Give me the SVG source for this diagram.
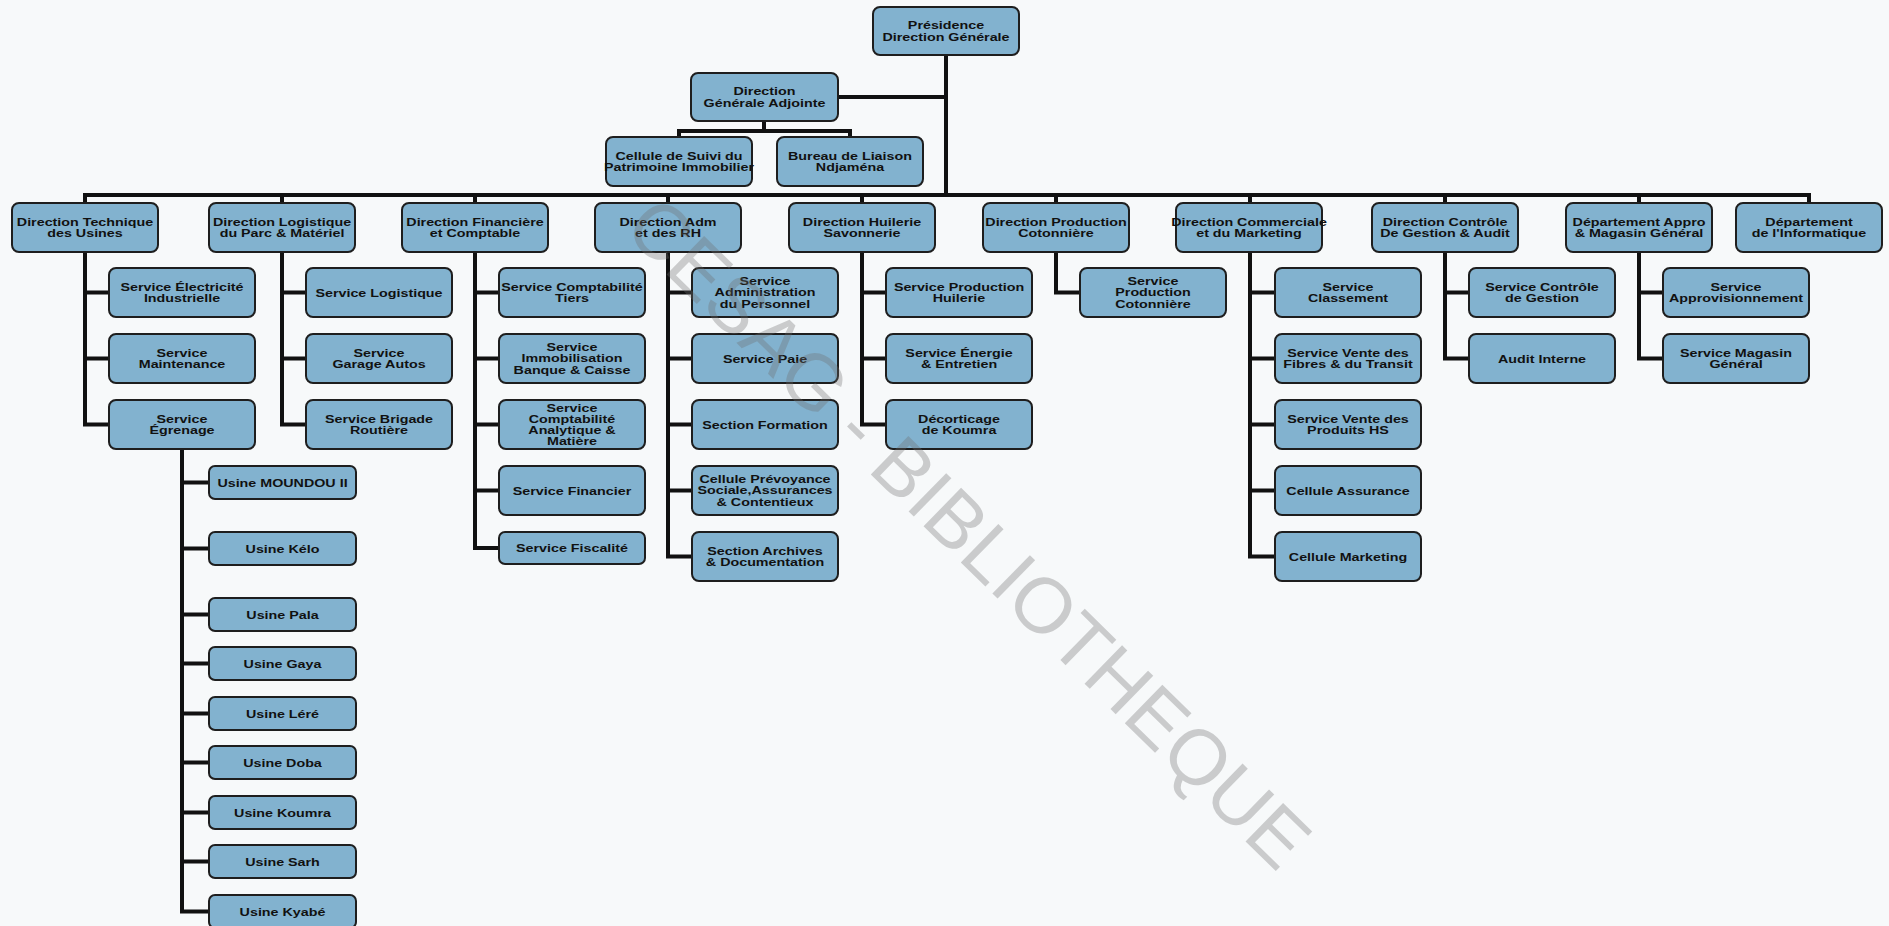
<svg xmlns="http://www.w3.org/2000/svg" width="1889" height="926" viewBox="0 0 1889 926">
  <style>
    .b { fill: #82b2cf; stroke: #1e1e1e; stroke-width: 2; }
    .t { font-family: "Liberation Sans", Arial, sans-serif; font-weight: bold; font-size: 11px; fill: #111; text-anchor: middle; }
    .c { fill: none; stroke: #111; stroke-width: 4; stroke-linejoin: miter; }
    .wm { font-family: "Liberation Sans", Arial, sans-serif; font-size: 78px; fill: #6e6e6e; opacity: 0.32; text-anchor: middle; }
  </style>
  <rect x="0" y="0" width="1889" height="926" fill="#f7f9fa"/>

  <!-- connectors -->
  <g id="connectors" class="c">
    <path d="M946 55 V195"/>
    <path d="M838 97 H946"/>
    <path d="M764 121 V131 M679 137 V131 H850 V137"/>
    <path d="M85 203 V195 H1809 V203"/>
    <path d="M282 195 V203 M475 195 V203 M668 195 V203 M862 195 V203 M1056 195 V203 M1250 195 V203 M1445 195 V203 M1639 195 V203"/>
    <!-- Direction Technique -->
    <path d="M85 252 V424.5 H109 M85 292.5 H109 M85 358.5 H109"/>
    <!-- Usines -->
    <path d="M182 449 V911.5 H209 M182 482.5 H209 M182 548.5 H209 M182 614.5 H209 M182 663.5 H209 M182 713.5 H209 M182 762.5 H209 M182 812.5 H209 M182 861.5 H209"/>
    <!-- Direction Logistique -->
    <path d="M282 252 V424.5 H306 M282 292.5 H306 M282 358.5 H306"/>
    <!-- Direction Financiere -->
    <path d="M475 252 V548 H499 M475 292.5 H499 M475 358.5 H499 M475 424.5 H499 M475 490.5 H499"/>
    <!-- Direction Adm -->
    <path d="M668 252 V556.5 H692 M668 292.5 H692 M668 358.5 H692 M668 424.5 H692 M668 490.5 H692"/>
    <!-- Direction Huilerie -->
    <path d="M862 252 V424.5 H886 M862 292.5 H886 M862 358.5 H886"/>
    <!-- Direction Production -->
    <path d="M1056 252 V292.5 H1080"/>
    <!-- Direction Commerciale -->
    <path d="M1250 252 V556.5 H1275 M1250 292.5 H1275 M1250 358.5 H1275 M1250 424.5 H1275 M1250 490.5 H1275"/>
    <!-- Direction Controle -->
    <path d="M1445 252 V358.5 H1469 M1445 292.5 H1469"/>
    <!-- Departement Appro -->
    <path d="M1639 252 V358.5 H1663 M1639 292.5 H1663"/>
  </g>

  <!-- top levels -->
  <g id="presidence"><rect class="b" x="873" y="7" width="146" height="48" rx="7"/>
    <text class="t" transform="translate(946,29) scale(1.3 1)"><tspan x="0">Présidence</tspan><tspan x="0" dy="12">Direction Générale</tspan></text></g>
  <g id="dga"><rect class="b" x="691" y="73" width="147" height="48" rx="7"/>
    <text class="t" transform="translate(764.5,95) scale(1.3 1)"><tspan x="0">Direction</tspan><tspan x="0" dy="12">Générale Adjointe</tspan></text></g>
  <g id="cellule-patrimoine"><rect class="b" x="606" y="137" width="146" height="49" rx="7"/>
    <text class="t" transform="translate(679,159.5) scale(1.3 1)"><tspan x="0">Cellule de Suivi du</tspan><tspan x="0" dy="12">Patrimoine Immobilier</tspan></text></g>
  <g id="bureau-liaison"><rect class="b" x="777" y="137" width="146" height="49" rx="7"/>
    <text class="t" transform="translate(850,159.5) scale(1.3 1)"><tspan x="0">Bureau de Liaison</tspan><tspan x="0" dy="12">Ndjaména</tspan></text></g>

  <!-- directions -->
  <g id="dir-technique"><rect class="b" x="12" y="203" width="146" height="49" rx="7"/>
    <text class="t" transform="translate(85,225.5) scale(1.3 1)"><tspan x="0">Direction Technique</tspan><tspan x="0" dy="12">des Usines</tspan></text></g>
  <g id="dir-logistique"><rect class="b" x="209" y="203" width="146" height="49" rx="7"/>
    <text class="t" transform="translate(282,225.5) scale(1.3 1)"><tspan x="0">Direction Logistique</tspan><tspan x="0" dy="12">du Parc &amp; Matériel</tspan></text></g>
  <g id="dir-financiere"><rect class="b" x="402" y="203" width="146" height="49" rx="7"/>
    <text class="t" transform="translate(475,225.5) scale(1.3 1)"><tspan x="0">Direction Financière</tspan><tspan x="0" dy="12">et Comptable</tspan></text></g>
  <g id="dir-adm"><rect class="b" x="595" y="203" width="146" height="49" rx="7"/>
    <text class="t" transform="translate(668,225.5) scale(1.3 1)"><tspan x="0">Direction Adm</tspan><tspan x="0" dy="12">et des RH</tspan></text></g>
  <g id="dir-huilerie"><rect class="b" x="789" y="203" width="146" height="49" rx="7"/>
    <text class="t" transform="translate(862,225.5) scale(1.3 1)"><tspan x="0">Direction Huilerie</tspan><tspan x="0" dy="12">Savonnerie</tspan></text></g>
  <g id="dir-production"><rect class="b" x="983" y="203" width="146" height="49" rx="7"/>
    <text class="t" transform="translate(1056,225.5) scale(1.3 1)"><tspan x="0">Direction Production</tspan><tspan x="0" dy="12">Cotonnière</tspan></text></g>
  <g id="dir-commerciale"><rect class="b" x="1176" y="203" width="146" height="49" rx="7"/>
    <text class="t" transform="translate(1249,225.5) scale(1.3 1)"><tspan x="0">Direction Commerciale</tspan><tspan x="0" dy="12">et du Marketing</tspan></text></g>
  <g id="dir-controle"><rect class="b" x="1372" y="203" width="146" height="49" rx="7"/>
    <text class="t" transform="translate(1445,225.5) scale(1.3 1)"><tspan x="0">Direction Contrôle</tspan><tspan x="0" dy="12">De Gestion &amp; Audit</tspan></text></g>
  <g id="dep-appro"><rect class="b" x="1566" y="203" width="146" height="49" rx="7"/>
    <text class="t" transform="translate(1639,225.5) scale(1.3 1)"><tspan x="0">Département Appro</tspan><tspan x="0" dy="12">&amp; Magasin Général</tspan></text></g>
  <g id="dep-informatique"><rect class="b" x="1736" y="203" width="146" height="49" rx="7"/>
    <text class="t" transform="translate(1809,225.5) scale(1.3 1)"><tspan x="0">Département</tspan><tspan x="0" dy="12">de l'Informatique</tspan></text></g>

  <!-- Direction Technique services -->
  <g id="svc-electricite"><rect class="b" x="109" y="268" width="146" height="49" rx="7"/>
    <text class="t" transform="translate(182,290.5) scale(1.3 1)"><tspan x="0">Service Électricité</tspan><tspan x="0" dy="12">Industrielle</tspan></text></g>
  <g id="svc-maintenance"><rect class="b" x="109" y="334" width="146" height="49" rx="7"/>
    <text class="t" transform="translate(182,356.5) scale(1.3 1)"><tspan x="0">Service</tspan><tspan x="0" dy="12">Maintenance</tspan></text></g>
  <g id="svc-egrenage"><rect class="b" x="109" y="400" width="146" height="49" rx="7"/>
    <text class="t" transform="translate(182,422.5) scale(1.3 1)"><tspan x="0">Service</tspan><tspan x="0" dy="12">Égrenage</tspan></text></g>

  <!-- Usines -->
  <g id="usine-moundou"><rect class="b" x="209" y="466" width="147" height="33" rx="6"/>
    <text class="t" transform="translate(282.5,486.5) scale(1.3 1)">Usine MOUNDOU II</text></g>
  <g id="usine-kelo"><rect class="b" x="209" y="532" width="147" height="33" rx="6"/>
    <text class="t" transform="translate(282.5,552.5) scale(1.3 1)">Usine Kélo</text></g>
  <g id="usine-pala"><rect class="b" x="209" y="598" width="147" height="33" rx="6"/>
    <text class="t" transform="translate(282.5,618.5) scale(1.3 1)">Usine Pala</text></g>
  <g id="usine-gaya"><rect class="b" x="209" y="647" width="147" height="33" rx="6"/>
    <text class="t" transform="translate(282.5,667.5) scale(1.3 1)">Usine Gaya</text></g>
  <g id="usine-lere"><rect class="b" x="209" y="697" width="147" height="33" rx="6"/>
    <text class="t" transform="translate(282.5,717.5) scale(1.3 1)">Usine Léré</text></g>
  <g id="usine-doba"><rect class="b" x="209" y="746" width="147" height="33" rx="6"/>
    <text class="t" transform="translate(282.5,766.5) scale(1.3 1)">Usine Doba</text></g>
  <g id="usine-koumra"><rect class="b" x="209" y="796" width="147" height="33" rx="6"/>
    <text class="t" transform="translate(282.5,816.5) scale(1.3 1)">Usine Koumra</text></g>
  <g id="usine-sarh"><rect class="b" x="209" y="845" width="147" height="33" rx="6"/>
    <text class="t" transform="translate(282.5,865.5) scale(1.3 1)">Usine Sarh</text></g>
  <g id="usine-kyabe"><rect class="b" x="209" y="895" width="147" height="33" rx="6"/>
    <text class="t" transform="translate(282.5,915.5) scale(1.3 1)">Usine Kyabé</text></g>

  <!-- Direction Logistique services -->
  <g id="svc-logistique"><rect class="b" x="306" y="268" width="146" height="49" rx="7"/>
    <text class="t" transform="translate(379,296.5) scale(1.3 1)">Service Logistique</text></g>
  <g id="svc-garage"><rect class="b" x="306" y="334" width="146" height="49" rx="7"/>
    <text class="t" transform="translate(379,356.5) scale(1.3 1)"><tspan x="0">Service</tspan><tspan x="0" dy="12">Garage Autos</tspan></text></g>
  <g id="svc-brigade"><rect class="b" x="306" y="400" width="146" height="49" rx="7"/>
    <text class="t" transform="translate(379,422.5) scale(1.3 1)"><tspan x="0">Service Brigade</tspan><tspan x="0" dy="12">Routière</tspan></text></g>

  <!-- Direction Financiere services -->
  <g id="svc-compta-tiers"><rect class="b" x="499" y="268" width="146" height="49" rx="7"/>
    <text class="t" transform="translate(572,290.5) scale(1.3 1)"><tspan x="0">Service Comptabilité</tspan><tspan x="0" dy="12">Tiers</tspan></text></g>
  <g id="svc-immobilisation"><rect class="b" x="499" y="334" width="146" height="49" rx="7"/>
    <text class="t" transform="translate(572,350.5) scale(1.3 1)"><tspan x="0">Service</tspan><tspan x="0" dy="12">Immobilisation</tspan><tspan x="0" dy="12">Banque &amp; Caisse</tspan></text></g>
  <g id="svc-compta-analytique"><rect class="b" x="499" y="400" width="146" height="49" rx="7"/>
    <text class="t" transform="translate(572,412) scale(1.3 1)"><tspan x="0">Service</tspan><tspan x="0" dy="11">Comptabilité</tspan><tspan x="0" dy="11">Analytique &amp;</tspan><tspan x="0" dy="11">Matière</tspan></text></g>
  <g id="svc-financier"><rect class="b" x="499" y="466" width="146" height="49" rx="7"/>
    <text class="t" transform="translate(572,494.5) scale(1.3 1)">Service Financier</text></g>
  <g id="svc-fiscalite"><rect class="b" x="499" y="532" width="146" height="32" rx="6"/>
    <text class="t" transform="translate(572,552) scale(1.3 1)">Service Fiscalité</text></g>

  <!-- Direction Adm services -->
  <g id="svc-admin-personnel"><rect class="b" x="692" y="268" width="146" height="49" rx="7"/>
    <text class="t" transform="translate(765,284.5) scale(1.3 1)"><tspan x="0">Service</tspan><tspan x="0" dy="12">Administration</tspan><tspan x="0" dy="12">du Personnel</tspan></text></g>
  <g id="svc-paie"><rect class="b" x="692" y="334" width="146" height="49" rx="7"/>
    <text class="t" transform="translate(765,362.5) scale(1.3 1)">Service Paie</text></g>
  <g id="sec-formation"><rect class="b" x="692" y="400" width="146" height="49" rx="7"/>
    <text class="t" transform="translate(765,428.5) scale(1.3 1)">Section Formation</text></g>
  <g id="cel-prevoyance"><rect class="b" x="692" y="466" width="146" height="49" rx="7"/>
    <text class="t" transform="translate(765,482.5) scale(1.3 1)"><tspan x="0">Cellule Prévoyance</tspan><tspan x="0" dy="12">Sociale,Assurances</tspan><tspan x="0" dy="12">&amp; Contentieux</tspan></text></g>
  <g id="sec-archives"><rect class="b" x="692" y="532" width="146" height="49" rx="7"/>
    <text class="t" transform="translate(765,554.5) scale(1.3 1)"><tspan x="0">Section Archives</tspan><tspan x="0" dy="12">&amp; Documentation</tspan></text></g>

  <!-- Direction Huilerie services -->
  <g id="svc-prod-huilerie"><rect class="b" x="886" y="268" width="146" height="49" rx="7"/>
    <text class="t" transform="translate(959,290.5) scale(1.3 1)"><tspan x="0">Service Production</tspan><tspan x="0" dy="12">Huilerie</tspan></text></g>
  <g id="svc-energie"><rect class="b" x="886" y="334" width="146" height="49" rx="7"/>
    <text class="t" transform="translate(959,356.5) scale(1.3 1)"><tspan x="0">Service Énergie</tspan><tspan x="0" dy="12">&amp; Entretien</tspan></text></g>
  <g id="decorticage"><rect class="b" x="886" y="400" width="146" height="49" rx="7"/>
    <text class="t" transform="translate(959,422.5) scale(1.3 1)"><tspan x="0">Décorticage</tspan><tspan x="0" dy="12">de Koumra</tspan></text></g>

  <!-- Direction Production service -->
  <g id="svc-prod-cotonniere"><rect class="b" x="1080" y="268" width="146" height="49" rx="7"/>
    <text class="t" transform="translate(1153,284.5) scale(1.3 1)"><tspan x="0">Service</tspan><tspan x="0" dy="12">Production</tspan><tspan x="0" dy="12">Cotonnière</tspan></text></g>

  <!-- Direction Commerciale services -->
  <g id="svc-classement"><rect class="b" x="1275" y="268" width="146" height="49" rx="7"/>
    <text class="t" transform="translate(1348,290.5) scale(1.3 1)"><tspan x="0">Service</tspan><tspan x="0" dy="12">Classement</tspan></text></g>
  <g id="svc-vente-fibres"><rect class="b" x="1275" y="334" width="146" height="49" rx="7"/>
    <text class="t" transform="translate(1348,356.5) scale(1.3 1)"><tspan x="0">Service Vente des</tspan><tspan x="0" dy="12">Fibres &amp; du Transit</tspan></text></g>
  <g id="svc-vente-produits"><rect class="b" x="1275" y="400" width="146" height="49" rx="7"/>
    <text class="t" transform="translate(1348,422.5) scale(1.3 1)"><tspan x="0">Service Vente des</tspan><tspan x="0" dy="12">Produits HS</tspan></text></g>
  <g id="cel-assurance"><rect class="b" x="1275" y="466" width="146" height="49" rx="7"/>
    <text class="t" transform="translate(1348,494.5) scale(1.3 1)">Cellule Assurance</text></g>
  <g id="cel-marketing"><rect class="b" x="1275" y="532" width="146" height="49" rx="7"/>
    <text class="t" transform="translate(1348,560.5) scale(1.3 1)">Cellule Marketing</text></g>

  <!-- Direction Controle services -->
  <g id="svc-controle-gestion"><rect class="b" x="1469" y="268" width="146" height="49" rx="7"/>
    <text class="t" transform="translate(1542,290.5) scale(1.3 1)"><tspan x="0">Service Contrôle</tspan><tspan x="0" dy="12">de Gestion</tspan></text></g>
  <g id="audit-interne"><rect class="b" x="1469" y="334" width="146" height="49" rx="7"/>
    <text class="t" transform="translate(1542,362.5) scale(1.3 1)">Audit Interne</text></g>

  <!-- Departement Appro services -->
  <g id="svc-approvisionnement"><rect class="b" x="1663" y="268" width="146" height="49" rx="7"/>
    <text class="t" transform="translate(1736,290.5) scale(1.3 1)"><tspan x="0">Service</tspan><tspan x="0" dy="12">Approvisionnement</tspan></text></g>
  <g id="svc-magasin"><rect class="b" x="1663" y="334" width="146" height="49" rx="7"/>
    <text class="t" transform="translate(1736,356.5) scale(1.3 1)"><tspan x="0">Service Magasin</tspan><tspan x="0" dy="12">Général</tspan></text></g>

  <!-- library stamp across the sheet -->
  <text class="wm" transform="translate(950,552) rotate(44.4)">CESAG - BIBLIOTHEQUE</text>
</svg>
